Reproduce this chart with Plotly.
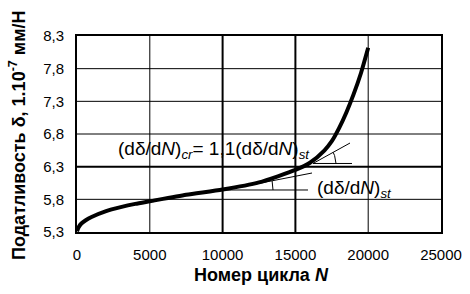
import plotly.graph_objects as go

# ---- data ----
cycles = [0, 100, 300, 600, 1000, 2000, 3000, 4000, 5000, 7500, 10000, 12500,
          15000, 16000, 17000, 17500, 18000, 18500, 19000, 19500, 20000]
compliance = [5.31, 5.37, 5.43, 5.48, 5.53, 5.62, 5.68, 5.73, 5.77, 5.87, 5.95, 6.06,
              6.25, 6.36, 6.55, 6.69, 6.89, 7.13, 7.41, 7.73, 8.12]

x_ticks = [0, 5000, 10000, 15000, 20000, 25000]
x_tick_text = ["0", "5000", "10000", "15000", "20000", "25000"]
y_ticks = [5.3, 5.8, 6.3, 6.8, 7.3, 7.8, 8.3]
y_tick_text = ["5,3", "5,8", "6,3", "6,8", "7,3", "7,8", "8,3"]
x_grid_thick = [10000, 15000]
y_grid_thick = [6.3]

# tangent construction (steady-state)
st_tan_x = [10165, 16140]
st_tan_y = [5.943, 6.203]
st_hor_x = [10165, 15865]
st_hor_y = [5.943, 5.943]
st_arc_x = [13462, 13455, 13434, 13400]
st_arc_y = [5.943, 5.989, 6.035, 6.081]
# tangent construction (critical)
cr_tan_x = [16209, 18750]
cr_tan_y = [6.349, 6.662]
cr_hor_x = [16209, 18887]
cr_hor_y = [6.349, 6.349]
cr_arc_x = [17788, 17764, 17692, 17589]
cr_arc_y = [6.349, 6.41, 6.47, 6.52]

FONT = "Liberation Sans, Arial, sans-serif"

fig = go.Figure()

thin = dict(color="black", width=1)
for xs, ys in [(st_tan_x, st_tan_y), (st_hor_x, st_hor_y), (st_arc_x, st_arc_y),
               (cr_tan_x, cr_tan_y), (cr_hor_x, cr_hor_y), (cr_arc_x, cr_arc_y)]:
    fig.add_trace(go.Scatter(x=xs, y=ys, mode="lines", line=thin,
                             hoverinfo="skip", showlegend=False))

fig.add_trace(go.Scatter(x=cycles, y=compliance, mode="lines",
                         line=dict(color="black", width=4, shape="spline", smoothing=0.6),
                         showlegend=False))

shapes = []
for xv in x_ticks[1:-1]:
    shapes.append(dict(type="line", xref="x", yref="paper", x0=xv, x1=xv, y0=0, y1=1,
                       line=dict(color="black", width=2 if xv in x_grid_thick else 1),
                       layer="below"))
for yv in y_ticks[1:-1]:
    shapes.append(dict(type="line", xref="paper", yref="y", x0=0, x1=1, y0=yv, y1=yv,
                       line=dict(color="black", width=2 if yv in y_grid_thick else 1),
                       layer="below"))

L, T, W, H = 77, 36, 364, 196

annotations = [
    dict(x=2650, y=6.55, xref="x", yref="y", xanchor="left", yanchor="middle",
         text="(dδ/d<i>N</i>)<sub><i>cr</i></sub>= 1,1(dδ/d<i>N</i>)<sub><i>st</i></sub>",
         showarrow=False, font=dict(family=FONT, size=19, color="black")),
    dict(x=16350, y=5.96, xref="x", yref="y", xanchor="left", yanchor="middle",
         text="(dδ/d<i>N</i>)<sub><i>st</i></sub>",
         showarrow=False, font=dict(family=FONT, size=19, color="black")),
    dict(x=(261 - L) / W, y=-(275 - (T + H)) / H, xref="paper", yref="paper",
         xanchor="center", yanchor="middle",
         text="<b>Номер цикла <i>N</i></b>", showarrow=False,
         font=dict(family=FONT, size=18, color="black")),
    dict(x=-(L - 17) / W, y=(T + H - 136) / H, xref="paper", yref="paper",
         xanchor="center", yanchor="middle", textangle=-90,
         text="<b>Податливость δ, 1.10<sup>-7</sup> мм/Н</b>", showarrow=False,
         font=dict(family=FONT, size=18, color="black")),
]

fig.update_layout(
    width=470, height=294,
    margin=dict(l=L, r=470 - L - W, t=T, b=294 - T - H, autoexpand=False),
    paper_bgcolor="white", plot_bgcolor="white",
    font=dict(family=FONT, size=15, color="black"),
    shapes=shapes, annotations=annotations,
    xaxis=dict(range=[0, 25000], tickvals=x_ticks, ticktext=x_tick_text,
               showgrid=False, zeroline=False, showline=True, mirror=True,
               linecolor="black", linewidth=2, ticks="", ticklabelstandoff=8,
               automargin=False, tickfont=dict(family=FONT, size=15)),
    yaxis=dict(range=[5.3, 8.3], tickvals=y_ticks, ticktext=y_tick_text,
               showgrid=False, zeroline=False, showline=True, mirror=True,
               linecolor="black", linewidth=2, ticks="", ticklabelstandoff=8,
               automargin=False, tickfont=dict(family=FONT, size=15)),
)

fig.write_html("out.html", config={"displayModeBar": False},
               post_script="document.body.style.margin='0';document.body.style.overflow='hidden';")
